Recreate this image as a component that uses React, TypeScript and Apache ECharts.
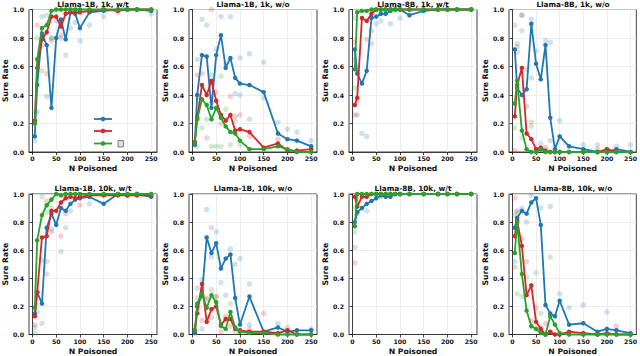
import React, { useEffect, useRef } from "react";
import * as echarts from "echarts";

const X = [5, 10, 20, 30, 40, 50, 60, 70, 80, 90, 100, 120, 150, 180, 200, 220, 250];
const xTicks = [0, 50, 100, 150, 200, 250];
const titles = [
  "Llama-1B, 1k, w/t", "Llama-1B, 1k, w/o", "Llama-8B, 1k, w/t", "Llama-8B, 1k, w/o",
  "Llama-1B, 10k, w/t", "Llama-1B, 10k, w/o", "Llama-8B, 10k, w/t", "Llama-8B, 10k, w/o",
];

// Panel 1: Llama-1B, 1k, w/t
const p1Blue = [0.11, 0.47, 0.83, 0.75, 0.31, 0.8, 0.93, 0.79, 0.98, 0.97, 0.87, 0.98, 0.99, 1.0, 1.0, 1.0, 0.99];
const p1Red = [0.22, 0.59, 0.79, 0.84, 0.95, 0.95, 0.88, 0.97, 0.98, 0.98, 0.98, 0.99, 1.0, 0.99, 1.0, 1.0, 1.0];
const p1Green = [0.2, 0.65, 0.87, 0.89, 0.99, 1.0, 1.0, 1.0, 1.0, 1.0, 1.0, 1.0, 1.0, 1.0, 1.0, 1.0, 1.0];
const p1BlueRuns = [[5, 0.08], [10, 0.28], [20, 0.95], [30, 0.39], [40, 0.8], [50, 0.92], [60, 0.8], [70, 0.68], [80, 0.87], [90, 0.91], [100, 0.78], [120, 0.89], [150, 0.95], [250, 0.97]];
const p1RedRuns = [[10, 0.89], [20, 0.75], [30, 0.55], [40, 0.78], [60, 0.82], [180, 0.98]];
const p1GreenRuns = [[5, 0.28], [10, 0.8], [20, 0.57], [30, 0.96], [40, 0.8]];

// Panel 2: Llama-1B, 1k, w/o
const p2Blue = [0.05, 0.4, 0.68, 0.67, 0.31, 0.68, 0.82, 0.59, 0.66, 0.52, 0.48, 0.47, 0.42, 0.13, 0.09, 0.08, 0.04];
const p2Red = [0.07, 0.24, 0.47, 0.4, 0.5, 0.36, 0.26, 0.22, 0.26, 0.15, 0.16, 0.14, 0.03, 0.06, 0.01, 0.01, 0.02];
const p2Green = [0.06, 0.23, 0.37, 0.33, 0.23, 0.31, 0.24, 0.18, 0.14, 0.13, 0.08, 0.02, 0.02, 0.04, 0.02, 0.0, 0.0];
const p2BlueRuns = [[10, 0.65], [20, 0.93], [30, 0.89], [40, 0.35], [50, 0.72], [60, 0.95], [70, 0.62], [80, 0.95], [90, 0.41], [100, 0.66], [100, 0.4], [120, 0.69], [120, 0.23], [150, 0.63], [150, 0.38], [180, 0.21], [200, 0.16], [220, 0.14], [250, 0.08]];
const p2RedRuns = [[10, 0.54], [20, 0.55], [30, 0.1], [40, 1.0], [50, 0.42], [60, 0.2], [80, 0.39], [90, 0.25], [100, 0.26], [120, 0.11], [180, 0.09]];
const p2GreenRuns = [[10, 0.04], [20, 0.17], [30, 0.23], [40, 0.54], [40, 0.04], [50, 0.04], [60, 0.53], [60, 0.04], [70, 0.3], [80, 0.05], [90, 0.22], [100, 0.05]];

// Panel 3: Llama-8B, 1k, w/t
const p3Blue = [0.72, 0.55, 0.48, 0.57, 0.94, 0.95, 0.97, 0.97, 0.99, 1.0, 1.0, 0.96, 0.99, 1.0, 1.0, 1.0, 1.0];
const p3Red = [0.33, 0.38, 0.94, 0.92, 0.97, 1.0, 1.0, 1.0, 1.0, 1.0, 1.0, 1.0, 1.0, 1.0, 1.0, 1.0, 1.0];
const p3Green = [0.58, 0.98, 0.99, 0.99, 1.0, 1.0, 1.0, 1.0, 1.0, 1.0, 1.0, 1.0, 1.0, 1.0, 1.0, 1.0, 1.0];
const p3BlueRuns = [[5, 0.65], [10, 0.26], [20, 0.13], [30, 0.11], [40, 0.76], [50, 0.9], [60, 0.92], [80, 0.9], [100, 0.94]];
const p3RedRuns = [[5, 0.26], [5, 0.77], [10, 0.36], [30, 0.79], [40, 0.85]];
const p3GreenRuns = [[5, 0.45], [5, 0.94], [10, 0.99]];

// Panel 4: Llama-8B, 1k, w/o
const p4Blue = [0.72, 0.45, 0.4, 0.44, 0.9, 0.62, 0.51, 0.75, 0.24, 0.02, 0.11, 0.04, 0.02, 0.0, 0.0, 0.02, 0.0];
const p4Red = [0.25, 0.47, 0.59, 0.13, 0.09, 0.02, 0.03, 0.01, 0.0, 0.0, 0.0, 0.0, 0.0, 0.0, 0.02, 0.0, 0.0];
const p4Green = [0.34, 0.5, 0.15, 0.02, 0.0, 0.0, 0.02, 0.0, 0.0, 0.0, 0.0, 0.0, 0.0, 0.0, 0.0, 0.0, 0.0];
const p4BlueRuns = [[10, 0.74], [20, 0.96], [30, 0.58], [40, 0.93], [40, 0.52], [50, 0.71], [60, 0.06], [70, 0.78], [80, 0.77], [80, 0.08], [100, 0.22], [150, 0.05], [180, 0.05], [220, 0.04], [250, 0.05]];
const p4RedRuns = [[5, 0.01], [10, 0.7], [20, 0.96], [30, 0.32], [40, 0.21], [70, 0.03], [180, 0.02]];
const p4GreenRuns = [[5, 0.89], [5, 0.17], [10, 0.76], [20, 0.85], [20, 0.1], [40, 0.18]];

// Panel 5: Llama-1B, 10k, w/t
const p5Blue = [0.15, 0.3, 0.22, 0.76, 0.86, 0.78, 0.9, 0.88, 0.93, 0.96, 0.97, 0.98, 0.93, 1.0, 0.99, 1.0, 0.98];
const p5Red = [0.13, 0.3, 0.69, 0.7, 0.88, 0.88, 0.94, 0.97, 0.98, 0.97, 0.98, 0.99, 0.99, 0.99, 0.99, 0.99, 0.99];
const p5Green = [0.19, 0.67, 0.85, 0.92, 0.96, 1.0, 0.99, 1.0, 1.0, 1.0, 1.0, 1.0, 1.0, 1.0, 1.0, 1.0, 1.0];
const p5BlueRuns = [[5, 0.05], [10, 0.16], [20, 0.08], [20, 0.53], [30, 0.52], [40, 0.75], [60, 0.59], [70, 0.76], [80, 0.88], [120, 0.93]];
const p5RedRuns = [[5, 0.07], [10, 0.31], [30, 0.43], [30, 0.95], [40, 0.73], [60, 0.7], [70, 0.86], [100, 0.92]];
const p5GreenRuns = [[5, 0.01], [10, 0.3], [20, 0.98], [30, 0.87], [40, 0.9]];

// Panel 6: Llama-1B, 10k, w/o
const p6Blue = [0.01, 0.2, 0.28, 0.69, 0.58, 0.65, 0.47, 0.54, 0.57, 0.26, 0.07, 0.27, 0.02, 0.05, 0.02, 0.03, 0.03];
const p6Red = [0.03, 0.15, 0.36, 0.09, 0.18, 0.2, 0.07, 0.11, 0.11, 0.04, 0.03, 0.02, 0.02, 0.01, 0.03, 0.0, 0.0];
const p6Green = [0.03, 0.22, 0.29, 0.19, 0.28, 0.23, 0.06, 0.04, 0.16, 0.05, 0.02, 0.01, 0.01, 0.0, 0.0, 0.0, 0.0];
const p6BlueRuns = [[10, 0.33], [20, 0.39], [20, 0.04], [30, 0.89], [40, 0.76], [40, 0.55], [50, 0.73], [60, 0.37], [70, 0.28], [80, 0.61], [90, 0.5], [100, 0.54], [120, 0.36], [120, 0.07], [180, 0.08], [250, 0.04]];
const p6RedRuns = [[10, 0.2], [20, 0.1], [30, 0.25], [40, 0.12], [50, 0.27], [60, 0.02], [70, 0.13], [80, 0.06], [120, 0.04], [150, 0.15], [200, 0.05]];
const p6GreenRuns = [[5, 0.06], [10, 0.26], [20, 0.26], [30, 0.26], [40, 0.32], [50, 0.27], [80, 0.22], [90, 0.02]];

// Panel 7: Llama-8B, 10k, w/t
const p7Blue = [0.8, 0.87, 0.9, 0.93, 0.95, 0.97, 0.99, 0.98, 0.98, 1.0, 1.0, 1.0, 1.0, 1.0, 1.0, 1.0, 1.0];
const p7Red = [0.98, 0.91, 0.98, 0.98, 1.0, 1.0, 1.0, 1.0, 1.0, 1.0, 1.0, 1.0, 1.0, 1.0, 1.0, 1.0, 1.0];
const p7Green = [0.77, 1.0, 1.0, 1.0, 1.0, 1.0, 1.0, 1.0, 1.0, 1.0, 1.0, 1.0, 1.0, 1.0, 1.0, 1.0, 1.0];
const p7BlueRuns = [[5, 0.62], [10, 0.86], [30, 0.88], [60, 0.98]];
const p7RedRuns = [[5, 0.51], [10, 0.96]];
const p7GreenRuns = [[5, 0.73], [5, 0.9]];

// Panel 8: Llama-8B, 10k, w/o
const p8Blue = [0.76, 0.83, 0.88, 0.86, 0.94, 0.97, 0.78, 0.21, 0.15, 0.13, 0.24, 0.07, 0.08, 0.02, 0.04, 0.03, 0.01];
const p8Red = [0.7, 0.81, 0.63, 0.28, 0.35, 0.09, 0.04, 0.0, 0.02, 0.0, 0.0, 0.02, 0.01, 0.0, 0.01, 0.0, 0.0];
const p8Green = [0.58, 0.8, 0.43, 0.17, 0.06, 0.04, 0.01, 0.0, 0.13, 0.07, 0.01, 0.0, 0.0, 0.0, 0.0, 0.0, 0.0];
const p8BlueRuns = [[5, 0.52], [10, 0.88], [20, 0.9], [30, 0.8], [40, 0.99], [60, 0.9], [80, 0.91], [100, 0.29], [120, 0.19], [150, 0.21], [200, 0.16], [220, 0.03]];
const p8RedRuns = [[5, 0.97], [5, 0.48], [10, 0.87], [20, 0.68], [30, 0.52], [40, 0.1], [50, 0.19], [60, 0.05], [70, 0.08], [220, 0.06]];
const p8GreenRuns = [[5, 0.85], [10, 0.29], [20, 0.27], [30, 0.41], [40, 0.05], [50, 0.44], [60, 0.15], [80, 0.55]];

const panels = [
  [p1Blue, p1Red, p1Green, p1BlueRuns, p1RedRuns, p1GreenRuns],
  [p2Blue, p2Red, p2Green, p2BlueRuns, p2RedRuns, p2GreenRuns],
  [p3Blue, p3Red, p3Green, p3BlueRuns, p3RedRuns, p3GreenRuns],
  [p4Blue, p4Red, p4Green, p4BlueRuns, p4RedRuns, p4GreenRuns],
  [p5Blue, p5Red, p5Green, p5BlueRuns, p5RedRuns, p5GreenRuns],
  [p6Blue, p6Red, p6Green, p6BlueRuns, p6RedRuns, p6GreenRuns],
  [p7Blue, p7Red, p7Green, p7BlueRuns, p7RedRuns, p7GreenRuns],
  [p8Blue, p8Red, p8Green, p8BlueRuns, p8RedRuns, p8GreenRuns],
];

const COLORS = ["#1f77b4", "#d62728", "#2ca02c"];
const FONT = "DejaVu Sans";

export default function App() {
  const ref = useRef<HTMLDivElement>(null);
  useEffect(() => {
    document.body.style.margin = "0";
    if (!ref.current) return;
    const chart = echarts.init(ref.current, null, { renderer: "svg" });
    const lefts = [29, 189, 349, 509];
    const tops = [9.5, 194];
    const W = 128;
    const H = 142.5;
    const grids: any[] = [];
    const xAxes: any[] = [];
    const yAxes: any[] = [];
    const series: any[] = [];
    const graphics: any[] = [];
    panels.forEach((p, i) => {
      const col = i % 4;
      const row = Math.floor(i / 4);
      grids.push({
        left: lefts[col], top: tops[row], width: W, height: H,
        show: true, borderColor: "#111", borderWidth: 0.8, backgroundColor: "transparent",
      });
      xAxes.push({
        gridIndex: i, type: "value", min: -7.25, max: 262.25,
        axisLine: { show: true, onZero: false, lineStyle: { color: "#111", width: 0.8 } },
        axisTick: { show: true, length: 3, customValues: xTicks, lineStyle: { color: "#111", width: 0.8 } },
        axisLabel: {
          customValues: xTicks, fontSize: 6.2, fontWeight: "bold", color: "#111", fontFamily: FONT, margin: 3.5,
          formatter: (v: number) => (v % 50 === 0 ? String(v) : ""),
        },
        splitLine: { show: true, lineStyle: { color: "#e8e8e8", width: 0.8 } },
        name: "N Poisoned", nameLocation: "middle", nameGap: 12.5,
        nameTextStyle: { fontSize: 7.7, fontWeight: "bold", color: "#111", fontFamily: FONT },
      });
      yAxes.push({
        gridIndex: i, type: "value", min: 0, max: 1, interval: 0.2,
        axisLine: { show: true, lineStyle: { color: "#111", width: 0.8 } },
        axisTick: { show: true, length: 3, lineStyle: { color: "#111", width: 0.8 } },
        axisLabel: {
          fontSize: 6.2, fontWeight: "bold", color: "#111", fontFamily: FONT, margin: 5,
          formatter: (v: number) => v.toFixed(1),
        },
        splitLine: { show: true, lineStyle: { color: "#e8e8e8", width: 0.8 } },
        name: "Sure Rate", nameLocation: "middle", nameGap: 20, nameRotate: 90,
        nameTextStyle: { fontSize: 7.7, fontWeight: "bold", color: "#111", fontFamily: FONT },
      });
      for (let k = 0; k < 3; k++) {
        series.push({
          type: "scatter", xAxisIndex: i, yAxisIndex: i, data: p[3 + k] as number[][],
          symbolSize: 5.5, itemStyle: { color: COLORS[k], opacity: 0.22 }, z: 2, silent: true,
        });
      }
      for (let k = 0; k < 3; k++) {
        const vals = p[k] as number[];
        series.push({
          type: "line", xAxisIndex: i, yAxisIndex: i,
          data: X.map((x, j) => [x, vals[j]]),
          symbol: "circle", symbolSize: 4.5, showSymbol: true, clip: false,
          lineStyle: { color: COLORS[k], width: 1.8 }, itemStyle: { color: COLORS[k] }, z: 3 + k,
        });
      }
      graphics.push({
        type: "text", x: lefts[col] + W / 2, y: row === 0 ? 4.2 : 188,
        style: {
          text: titles[i], fontSize: 7.3, fontWeight: "bold", fontFamily: FONT, fill: "#111",
          align: "center", verticalAlign: "middle",
        },
      });
    });
    // legend handles (panel 1)
    const ly = [119, 131, 143.5];
    ly.forEach((y, k) => {
      graphics.push({ type: "line", shape: { x1: 94, y1: y, x2: 112, y2: y }, style: { stroke: COLORS[k], lineWidth: 1.8 }, z: 10 });
      graphics.push({ type: "circle", shape: { cx: 103, cy: y, r: 2.3 }, style: { fill: COLORS[k] }, z: 10 });
    });
    graphics.push({ type: "rect", shape: { x: 118, y: 140.5, width: 5.5, height: 6.5 }, style: { fill: "#ddd", stroke: "#666", lineWidth: 0.8 }, z: 10 });

    chart.setOption({
      animation: false,
      backgroundColor: "#fff",
      grid: grids,
      xAxis: xAxes,
      yAxis: yAxes,
      series,
      graphic: graphics,
    });
    return () => chart.dispose();
  }, []);
  return <div ref={ref} style={{ width: 640, height: 356 }} />;
}
